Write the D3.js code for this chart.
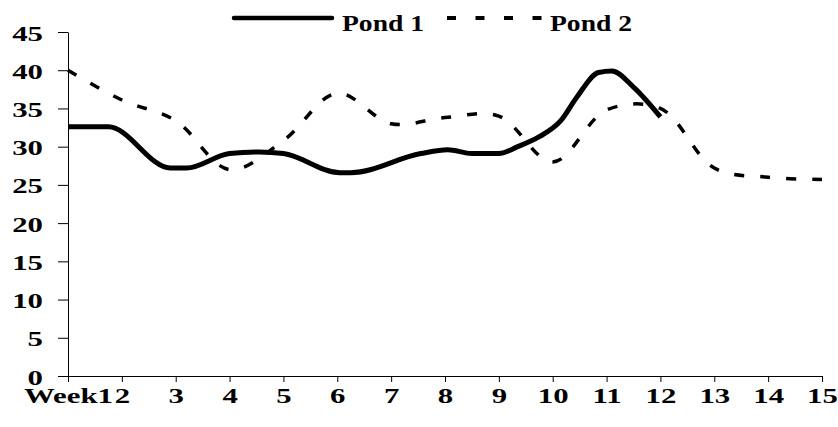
<!DOCTYPE html>
<html>
<head>
<meta charset="utf-8">
<script src="https://cdn.jsdelivr.net/npm/d3@7"></script>
<style>
  html, body { margin: 0; padding: 0; background: #fff; }
  svg { display: block; }
  text { font-family: "Liberation Serif", "Times New Roman", serif; font-weight: bold; fill: #000; }
</style>
</head>
<body>
<svg id="chart" width="838" height="427"></svg>
<script>
// ---- data ----
const weekTicks = [1,2,3,4,5,6,7,8,9,10,11,12,13,14,15];
const weekLabels = ["Week1","2","3","4","5","6","7","8","9","10","11","12","13","14","15"];
const yTicks = [0,5,10,15,20,25,30,35,40,45];

// Pond 1 (sampled more often than weekly), week position and value
const pond1Weeks  = [1, 1.75, 2.9, 3.2, 4, 4.55, 5, 6.05, 6.25, 7.55, 8.05, 8.5, 9, 9.35, 9.75, 10.15, 10.45, 10.85, 11.1, 11.5, 12];
const pond1Values = [32.6, 32.6, 27.2, 27.2, 29.1, 29.3, 29.1, 26.6, 26.6, 29.1, 29.6, 29.1, 29.1, 30.0, 31.3, 33.4, 36.5, 39.7, 39.9, 37.8, 33.9];

// Pond 2 weekly
const pond2Weeks  = [1,2,3,4,5,6,7,8,9,10,11,12,13,14,15];
const pond2Values = [40, 36.1, 33.4, 27, 30.8, 37, 33, 33.8, 34, 28, 34.8, 35, 27.2, 26, 25.7];

const seriesNames = ["Pond 1", "Pond 2"];

// ---- layout ----
const svg = d3.select("#chart");
const x = d3.scaleLinear().domain([1, 15]).range([68, 822]);
const y = d3.scaleLinear().domain([0, 45]).range([376, 32]);
const SX = 1.4; // horizontal stretch of glyphs in the reference

// axes
const gy = svg.append("g").attr("transform", "translate(68,0)")
  .call(d3.axisLeft(y).tickValues(yTicks).tickSize(10).tickSizeOuter(0).tickFormat(d3.format("d")));
gy.select(".domain").attr("stroke", "#000");
gy.selectAll(".tick line").attr("stroke", "#000");
gy.selectAll(".tick text")
  .attr("x", null).attr("dy", null).attr("y", null)
  .attr("transform", "translate(-25,8) scale(" + SX + ",1)")
  .style("font-size", "22px");

const gx = svg.append("g").attr("transform", "translate(0,376)")
  .call(d3.axisBottom(x).tickValues(weekTicks).tickSize(6).tickSizeOuter(0)
        .tickFormat((d, i) => weekLabels[i]));
gx.select(".domain").attr("stroke", "#000");
gx.selectAll(".tick line").attr("stroke", "#000");
gx.selectAll(".tick text")
  .attr("y", null).attr("dy", null)
  .attr("transform", "translate(0,27) scale(" + SX + ",1)")
  .style("font-size", "22px");

// lines
const line = d3.line().x(d => x(d[0])).y(d => y(d[1])).curve(d3.curveMonotoneX);
const p1 = pond1Weeks.map((w, i) => [w, pond1Values[i]]);
const p2 = pond2Weeks.map((w, i) => [w, pond2Values[i]]);

svg.append("path").datum(p2)
  .attr("d", d3.line().x(d => x(d[0])).y(d => y(d[1])).curve(d3.curveCatmullRom.alpha(0.5)))
  .attr("fill", "none").attr("stroke", "#000").attr("stroke-width", 3.5)
  .attr("stroke-dasharray", "10,16");

svg.append("path").datum(p1)
  .attr("d", line)
  .attr("fill", "none").attr("stroke", "#000").attr("stroke-width", 5)
  .attr("stroke-linejoin", "round");

// legend
const lg = svg.append("g");
lg.append("line").attr("x1", 234).attr("x2", 332).attr("y1", 18).attr("y2", 18)
  .attr("stroke", "#000").attr("stroke-width", 4.5).attr("stroke-linecap", "round");
lg.append("text").attr("transform", "translate(342,31) scale(1.2,1)")
  .style("font-size", "23px").text(seriesNames[0]);
lg.append("line").attr("x1", 447).attr("x2", 543).attr("y1", 18).attr("y2", 18)
  .attr("stroke", "#000").attr("stroke-width", 4).attr("stroke-dasharray", "9,19.5");
lg.append("text").attr("transform", "translate(550,31) scale(1.2,1)")
  .style("font-size", "23px").text(seriesNames[1]);
</script>
</body>
</html>
